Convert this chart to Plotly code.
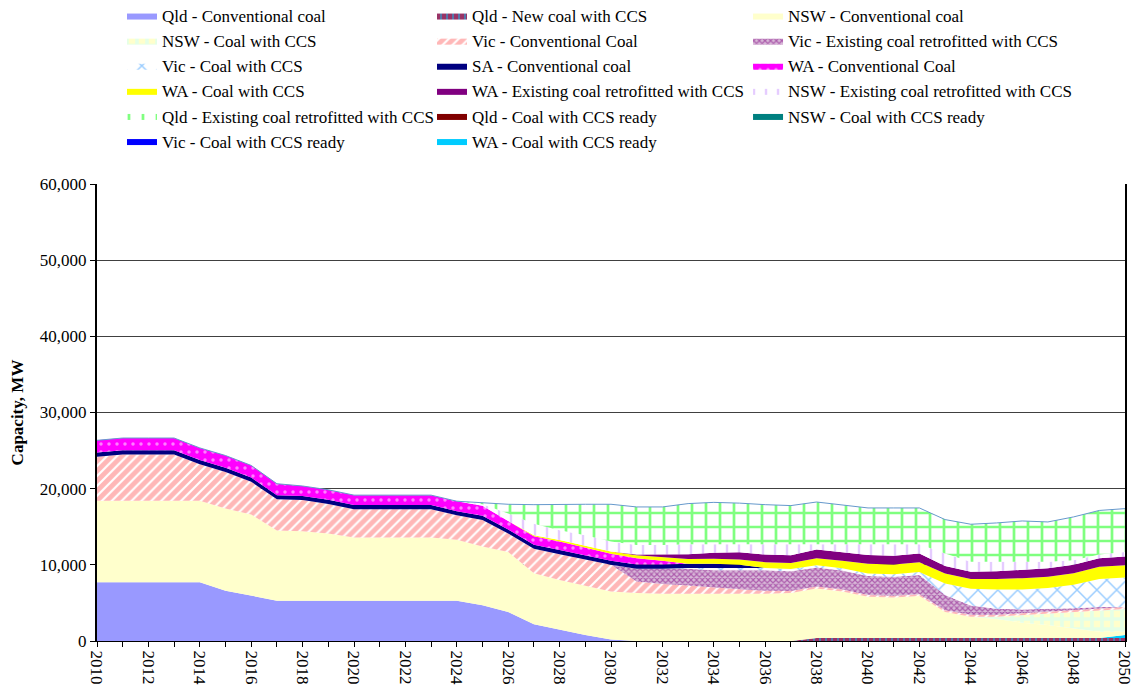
import numpy as np
import plotly.graph_objects as go

years = list(range(2010, 2051))

# capacity in MW, 2010..2050
qld_conv = [7700]*5 + [6600, 6000] + [5300]*8 + [4700, 3800, 2200, 1500, 800, 200] + [0]*20
qld_new_ccs = [0]*28 + [400]*13
nsw_conv = [10700]*5 + [10800, 10600, 9200, 9100, 8800] + [8300]*4 + \
    [8000, 7700, 7900, 6700, 6500, 6400, 6300, 6300] + [6200]*5 + \
    [6300, 6500, 6100, 5400, 5300, 5500, 3400, 2800, 2500, 2000, 1700, 1200, 800, 400]
nsw_ccs = [0]*35 + [300, 1000, 1500, 2150, 2800, 3000]
vic_conv = [5800, 6100, 6100, 6100, 4800, 4800, 4300, 4100, 4100, 3900] + [3700]*4 + \
    [3200, 3500, 2400, 3200, 3400, 3500, 3500, 1500, 1300, 1100, 800, 600, 400] + [250]*14
vic_retro = [0]*21 + [1700, 2000, 2200, 2300, 2500, 2700, 2600, 2500, 2500, 2500, 2500, 2500,
                      2000, 1200, 800, 500, 400, 300, 200, 0]
vic_ccs = [0]*23 + [100, 300, 300, 300, 300, 300, 300, 300, 300, 400,
                    1500, 2200, 2500, 2600, 2700, 3100, 3700, 3900]
sa_conv = [550]*25 + [400] + [0]*15
wa_conv = [1600]*7 + [1500] + [1300]*8 + [1100, 1100, 1100, 1000, 900, 800, 500] + [0]*18
wa_ccs = [0]*17 + [150, 200, 250, 300, 400, 500, 600, 650, 700, 750, 800, 900, 1000,
                   1300, 1300, 1300, 1300, 1300, 1400, 1500, 1500, 1500, 1600, 1600]
wa_retro = [0]*21 + [100, 350, 650, 800, 950, 1000, 1000, 1150, 1150, 1150, 1150, 1150,
                     1000, 950, 1000, 1100, 1100, 1100, 1100, 1150]
nsw_retro = [0]*15 + [200, 1000, 1500, 1300, 1400, 1300, 1250, 1200, 1300, 1100, 1050, 1350,
                      1450, 700, 1000, 1400, 1500, 1200, 1650, 1300, 1250, 1050, 850, 600, 500, 600]
qld_retro = [0]*15 + [200, 1200, 2500, 3400, 4050, 4900, 5000, 5000, 5340, 5500, 5400, 5200,
                      5080, 5550, 5200, 4770, 4770, 4770, 4440, 4930, 5100, 5360, 5230, 5690, 5790, 5680]
qld_ccs_ready = [0]*41
nsw_ccs_ready = [0]*41
vic_ccs_ready = [0]*41
wa_ccs_ready = [0]*40 + [400]

xlabels = [str(y) if y % 2 == 0 else '' for y in years]

FONT = 'Liberation Serif'

# (name, values, fill colour, pattern, legend column, rank) in stacking order, bottom first
series = [
    ('Qld - Conventional coal', qld_conv, '#9999FF', None, 'legend', 1),
    ('Qld - New coal with CCS', qld_new_ccs, '#993366', dict(shape='|', fgcolor='#00CCFF', size=6, solidity=0.3), 'legend2', 1),
    ('WA - Coal with CCS ready', wa_ccs_ready, '#00CCFF', None, 'legend2', 6),
    ('Vic - Coal with CCS ready', vic_ccs_ready, '#0000FF', None, 'legend', 6),
    ('Qld - Coal with CCS ready', qld_ccs_ready, '#800000', None, 'legend2', 5),
    ('NSW - Coal with CCS ready', nsw_ccs_ready, '#008080', None, 'legend3', 5),
    ('NSW - Conventional coal', nsw_conv, '#FFFFCC', None, 'legend3', 1),
    ('NSW - Coal with CCS', nsw_ccs, '#FFFFCC', dict(shape='+', fgcolor='#CCFFFF', bgcolor='#FFFFCC', size=10, solidity=0.6), 'legend', 2),
    ('Vic - Conventional Coal', vic_conv, 'white', dict(shape='/', fgcolor='#FF7070', bgcolor='white', size=7, solidity=0.7), 'legend2', 2),
    ('Vic - Existing coal retrofitted with CCS', vic_retro, 'white', dict(shape='x', fgcolor='#800080', bgcolor='#D8B8D8', size=4, solidity=0.5), 'legend3', 2),
    ('Vic - Coal with CCS', vic_ccs, 'white', dict(shape='x', fgcolor='#3399FF', bgcolor='white', size=14, solidity=0.2), 'legend', 3),
    ('SA - Conventional coal', sa_conv, '#000080', None, 'legend2', 3),
    ('WA - Conventional Coal', wa_conv, '#FF00FF', dict(shape='.', fgcolor='white', bgcolor='#FF00FF', size=8, solidity=0.15), 'legend3', 3),
    ('WA - Coal with CCS', wa_ccs, '#FFFF00', None, 'legend', 4),
    ('WA - Existing coal retrofitted with CCS', wa_retro, '#800080', None, 'legend2', 4),
    ('NSW - Existing coal retrofitted with CCS', nsw_retro, 'white', dict(shape='|', fgcolor='#CC99FF', bgcolor='white', size=12, solidity=0.2), 'legend3', 4),
    ('Qld - Existing coal retrofitted with CCS', qld_retro, 'white', dict(shape='+', fgcolor='#00FF00', bgcolor='white', size=14, solidity=0.35), 'legend', 5),
]

fig = go.Figure()
for name, vals, col, pat, leg, rank in series:
    kw = dict(fillpattern=pat) if pat else {}
    fig.add_trace(go.Scatter(
        x=years, y=vals, name=name, mode='lines', stackgroup='one',
        line=dict(width=0, color=col), fillcolor=col, legend=leg, legendrank=rank, **kw))

total = np.sum([s[1] for s in series], axis=0)
fig.add_trace(go.Scatter(x=years, y=total, mode='lines', showlegend=False,
                         line=dict(color='#6699CC', width=1), hoverinfo='skip'))

legfont = dict(family=FONT, size=17, color='black')
legbase = dict(orientation='v', y=1.407, yanchor='top', xanchor='left', font=legfont,
               traceorder='normal', bgcolor='rgba(0,0,0,0)')

# the page adds an 8px body margin, so margins are offset to land the plot where the original sits
fig.update_layout(
    width=1146, height=693,
    margin=dict(l=89, r=29, t=176, b=60, autoexpand=False),
    plot_bgcolor='white', paper_bgcolor='white',
    font=dict(family=FONT, size=17, color='black'),
    showlegend=True,
    legend=dict(x=0.0243, **legbase),
    legend2=dict(x=0.3259, **legbase),
    legend3=dict(x=0.6333, **legbase),
    xaxis=dict(range=[2010, 2050], tickvals=years, ticktext=xlabels, tickangle=90,
               ticks='outside', ticklen=5, tickcolor='black', showline=True,
               linecolor='black', linewidth=1, showgrid=False, zeroline=False,
               tickfont=dict(family=FONT, size=17, color='black'), automargin=False),
    yaxis=dict(range=[0, 60000], dtick=10000, tickformat=',', ticks='outside',
               ticklen=5, tickcolor='black', showline=True, linecolor='black',
               linewidth=2, mirror=True, showgrid=True, gridcolor='#404040',
               gridwidth=1, zeroline=False,
               tickfont=dict(family=FONT, size=17, color='black'), automargin=False,
               title=dict(text='<b>Capacity, MW</b>', standoff=22,
                          font=dict(family=FONT, size=17, color='black'))),
)

fig.write_html("out.html")
